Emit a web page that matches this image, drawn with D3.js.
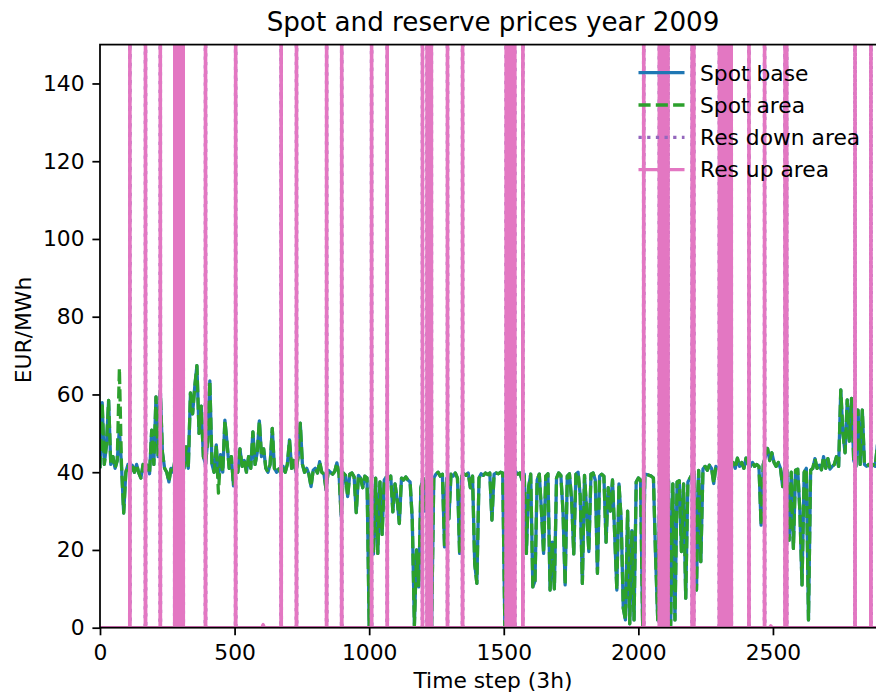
<!DOCTYPE html>
<html>
<head>
<meta charset="utf-8">
<script src="https://cdn.jsdelivr.net/npm/d3@7"></script>
<style>
  body { margin: 0; background: #fff; }
  text { font-family: "DejaVu Sans", sans-serif; fill: #000; }
</style>
</head>
<body>
<svg id="chart" width="876" height="697"></svg>
<script>
// ---- labels and ticks ----
const titleText = "Spot and reserve prices year 2009";
const xLabelText = "Time step (3h)";
const yLabelText = "EUR/MWh";
const xTickValues = [0, 500, 1000, 1500, 2000, 2500];
const yTickValues = [0, 20, 40, 60, 80, 100, 120, 140];
const seriesNames = ["Spot base", "Spot area", "Res down area", "Res up area"];
const seriesColors = ["#1f77b4", "#2ca02c", "#9467bd", "#e377c2"];

// ---- data ----
const nSteps = 2920;      // 3h steps in a year
const sampleEvery = 8;    // spot prices read once per day (8 x 3h)

// spot price, base node (EUR/MWh), one value per day
const spotBase = [
  41, 57.9, 42, 47, 58.5, 42, 44, 41, 43, 51,
  41.5, 29.5, 40, 42, 39.8, 41.8, 40, 42, 39.8, 38.5,
  42, 40, 41.8, 39.6, 50.8, 42, 59.4, 44, 61, 45,
  41, 40, 37.5, 41, 40, 44, 41, 47, 42, 41,
  46.5, 41, 60.4, 55, 62, 67.4, 50, 57, 44, 42,
  48, 63.5, 42, 40, 47, 38.5, 44.5, 40, 53.4, 47.5,
  41, 44, 36.5, 41, 40, 46, 41.5, 43, 40, 44,
  41, 50.4, 42, 45, 53.2, 44, 46, 41, 40, 42,
  51.3, 41, 40, 40.8, 39.8, 41.5, 40, 42, 48.3, 41,
  43, 40, 44, 52.6, 42, 40, 41, 39.5, 36.3, 40.5,
  41, 39.8, 42.7, 40, 39.5, 35.4, 40.5, 40, 39.5, 40.2,
  42.4, 39.5, 28.6, 39.8, 39.2, 33.7, 39.5, 39.8, 38.8, 29.6,
  39.2, 38.5, 36, 39, 38.5, 0.3, 38, 19, 38.5, 19.1,
  37.5, 24, 38, 38.8, 38.2, 39, 29.8, 37, 33, 26.8,
  38.5, 38, 38.8, 38, 37.5, 28, 0.5, 20, 10.5, 36,
  38.5, 30, 38, 24, 0.5, 38.5, 39.5, 40, 39, 39.5,
  20.8, 38.5, 28, 39.5, 39, 39.8, 38.5, 19.1, 39, 39.6,
  39.2, 39.8, 36, 39, 16.5, 11.4, 38.5, 39.6, 39.2, 39.8,
  39.4, 39.8, 27.7, 39.5, 39.8, 39.6, 40, 39.8, 0.3, 40,
  39.8, 40, 39.6, 40.2, 39.5, 39.8, 38, 39.5, 19.1, 36,
  39.5, 10.5, 12, 38, 39.5, 30, 19.1, 39, 39.6, 9.7,
  22, 10, 38.5, 39.8, 39.2, 30, 11, 39, 39.6, 33,
  19, 39.5, 40, 34, 11.4, 39.2, 30, 19.6, 39.5, 39.8,
  38, 14, 39, 39.5, 39, 22, 36, 30, 38, 24,
  9.7, 37, 28, 5, 2, 30, 1, 25, 2, 37.5,
  38.5, 38, 0.3, 39.5, 39.4, 39.2, 39, 38.5, 18.3, 2,
  38, 30, 37, 20, 38, 0.6, 37, 2, 37.5, 37.8,
  19.6, 37, 7.6, 37.5, 38.5, 39.5, 40, 9.7, 40.5, 17,
  40.8, 41.5, 40.5, 41.8, 41, 37.1, 41.5, 41, 41.5, 41,
  42, 41, 41.5, 41, 42.5, 41, 43.6, 41.5, 42.5, 41,
  43.6, 42, 41.5, 42.5, 41.5, 42, 41.5, 26.4, 42, 44,
  46.1, 43, 45, 42.5, 41.5, 42.5, 41, 36.3, 41, 40.5,
  22.5, 40, 20.4, 40.5, 40.8, 30, 11, 40, 41, 2,
  40.5, 41, 43.5, 41, 41.8, 40.6, 44, 41, 43.5, 40.8,
  41.5, 42, 44, 41.5, 61.2, 50, 45, 58.6, 48, 59,
  43, 41.5, 56, 42, 56, 42, 41.5, 42, 41.2, 42,
  41.5, 47, 42, 41, 41.5
];

// spot price, area node (EUR/MWh), one value per day
const spotArea = [
  41, 57.9, 42, 47, 58.5, 42, 44, 41, 43, 66.8,
  41.5, 29.5, 40, 42, 39.8, 41.8, 40, 42, 39.8, 38.5,
  42, 40, 41.8, 39.6, 50.8, 42, 59.4, 44, 61, 45,
  41, 40, 37.5, 41, 40, 44, 41, 47, 42, 41,
  46.5, 41, 60.4, 55, 62, 67.4, 50, 57, 44, 42,
  48, 63.5, 42, 40, 47, 34.6, 44.5, 40, 53.4, 47.5,
  41, 44, 36.5, 41, 40, 46, 41.5, 43, 40, 44,
  41, 50.4, 42, 45, 53.2, 44, 46, 41, 40, 42,
  51.3, 41, 40, 40.8, 39.8, 41.5, 40, 42, 48.3, 41,
  43, 40, 44, 52.6, 42, 40, 41, 39.5, 36.3, 40.5,
  41, 39.8, 42.7, 40, 39.5, 35.4, 40.5, 40, 39.5, 40.2,
  42.4, 39.5, 28.6, 39.8, 39.2, 33.7, 39.5, 39.8, 38.8, 29.6,
  39.2, 38.5, 36, 39, 38.5, 0.3, 38, 19, 38.5, 19.1,
  37.5, 24, 38, 38.8, 38.2, 39, 29.8, 37, 33, 26.8,
  38.5, 38, 38.8, 38, 37.5, 28, 0.5, 20, 10.5, 36,
  38.5, 30, 38, 24, 0.5, 38.5, 39.5, 40, 39, 39.5,
  20.8, 38.5, 28, 39.5, 39, 39.8, 38.5, 19.1, 39, 39.6,
  39.2, 39.8, 36, 39, 16.5, 11.4, 38.5, 39.6, 39.2, 39.8,
  39.4, 39.8, 27.7, 39.5, 39.8, 39.6, 40, 39.8, 0.3, 40,
  39.8, 40, 39.6, 40.2, 39.5, 39.8, 38, 39.5, 19.1, 36,
  39.5, 10.5, 12, 38, 39.5, 30, 19.1, 39, 39.6, 9.7,
  22, 10, 38.5, 39.8, 39.2, 30, 11, 39, 39.6, 33,
  19, 39.5, 40, 34, 11.4, 39.2, 30, 19.6, 39.5, 39.8,
  38, 14, 39, 39.5, 39, 22, 36, 30, 38, 24,
  9.7, 37, 28, 5, 2, 30, 1, 25, 2, 37.5,
  38.5, 38, 0.3, 39.5, 39.4, 39.2, 39, 38.5, 18.3, 2,
  38, 30, 37, 20, 38, 0.6, 37, 2, 37.5, 37.8,
  19.6, 37, 7.6, 37.5, 38.5, 39.5, 40, 9.7, 40.5, 17,
  40.8, 41.5, 40.5, 41.8, 41, 37.1, 41.5, 41, 41.5, 41,
  42, 41, 41.5, 41, 42.5, 41, 43.6, 41.5, 42.5, 41,
  43.6, 42, 41.5, 42.5, 41.5, 42, 41.5, 26.4, 42, 44,
  46.1, 43, 45, 42.5, 41.5, 42.5, 41, 36.3, 41, 40.5,
  22.5, 40, 20.4, 40.5, 40.8, 30, 11, 40, 41, 2,
  40.5, 41, 43.5, 41, 41.8, 40.6, 44, 41, 43.5, 40.8,
  41.5, 42, 44, 41.5, 61.2, 50, 45, 58.6, 48, 59,
  43, 41.5, 56, 42, 56, 42, 41.5, 42, 41.2, 42,
  41.5, 47, 42, 41, 41.5
];

// reserve prices are zero except at the listed time steps
const resDownSteps = [
  111, 169, 224, 278, 282, 286, 290, 294, 298, 302, 306, 309,
  392, 504, 673, 730, 842, 898, 1009, 1067, 1198,
  1215, 1219, 1223, 1227, 1231, 1291, 1347,
  1509, 1513, 1517, 1521, 1525, 1529, 1533, 1537, 1541, 1571,
  2020, 2078, 2082, 2086, 2090, 2094, 2098, 2102, 2106, 2110,
  2200, 2206,
  2301, 2305, 2309, 2313, 2317, 2321, 2325, 2329, 2333, 2337, 2341, 2345,
  2411, 2469, 2545, 2551, 2805, 2864
];
const resDownValues = [
  380, 380, 380, 380, 380, 380, 380, 380, 380, 380, 380, 380,
  380, 380, 380, 380, 380, 380, 380, 380, 380,
  380, 380, 380, 380, 380, 380, 380,
  380, 380, 380, 380, 380, 380, 380, 380, 380, 380,
  380, 380, 380, 380, 380, 380, 380, 380, 380, 380,
  380, 380,
  380, 380, 380, 380, 380, 380, 380, 380, 380, 380, 380, 380,
  380, 380, 380, 380, 380, 380
];

const resUpSteps = [
  111, 169, 224, 278, 282, 286, 290, 294, 298, 302, 306, 309,
  392, 504, 603, 604, 605, 606, 607, 608, 609,
  673, 730, 842, 898, 1009, 1067, 1198,
  1215, 1219, 1223, 1227, 1231, 1291, 1347,
  1509, 1513, 1517, 1521, 1525, 1529, 1533, 1537, 1541, 1571,
  2020, 2078, 2082, 2086, 2090, 2094, 2098, 2102, 2106, 2110,
  2200, 2206,
  2301, 2305, 2309, 2313, 2317, 2321, 2325, 2329, 2333, 2337, 2341, 2345,
  2411, 2469, 2489, 2490, 2491, 2492, 2493, 2494, 2495,
  2545, 2551, 2805, 2864
];
const resUpValues = [
  400, 400, 400, 400, 400, 400, 400, 400, 400, 400, 400, 400,
  400, 400, 0.3, 0.5, 0.7, 0.8, 0.7, 0.5, 0.3,
  400, 400, 400, 400, 400, 400, 400,
  400, 400, 400, 400, 400, 400, 400,
  400, 400, 400, 400, 400, 400, 400, 400, 400, 400,
  400, 400, 400, 400, 400, 400, 400, 400, 400, 400,
  400, 400,
  400, 400, 400, 400, 400, 400, 400, 400, 400, 400, 400, 400,
  400, 400, 0.2, 0.3, 0.4, 0.5, 0.4, 0.3, 0.2,
  400, 400, 400, 400
];

// ---- build point lists ----
const dailyPoints = values => values.map((v, i) => [i * sampleEvery, v]);
const stepSeries = (steps, values) => {
  const byStep = new Map(steps.map((s, i) => [s, values[i]]));
  return d3.range(nSteps).map(t => [t, byStep.has(t) ? byStep.get(t) : 0]);
};

const series = [
  { name: seriesNames[0], color: seriesColors[0], dash: null,        pts: dailyPoints(spotBase) },
  { name: seriesNames[1], color: seriesColors[1], dash: "12.1,5.2",  pts: dailyPoints(spotArea) },
  { name: seriesNames[2], color: seriesColors[2], dash: "3.27,5.4",  pts: stepSeries(resDownSteps, resDownValues) },
  { name: seriesNames[3], color: seriesColors[3], dash: null,        pts: stepSeries(resUpSteps, resUpValues) }
];

// ---- layout ----
const plot = { left: 100, right: 886, top: 44.6, bottom: 627.7 };
const lineW = 3.27;
const fontSize = "21.8px";
const tickLen = 7.6;

const svg = d3.select("#chart");
const x = d3.scaleLinear().domain([0, nSteps]).range([plot.left, plot.right]);
const y = d3.scaleLinear().domain([0, 150]).range([plot.bottom, plot.top]);

svg.append("defs").append("clipPath").attr("id", "plotClip")
  .append("rect")
  .attr("x", plot.left).attr("y", plot.top)
  .attr("width", plot.right - plot.left).attr("height", plot.bottom - plot.top);

const line = d3.line().x(d => x(d[0])).y(d => y(d[1]));

const lines = svg.append("g").attr("clip-path", "url(#plotClip)");
series.forEach(s => {
  lines.append("path")
    .attr("d", line(s.pts))
    .attr("fill", "none")
    .attr("stroke", s.color)
    .attr("stroke-width", lineW)
    .attr("stroke-linejoin", "round")
    .attr("stroke-dasharray", s.dash);
});

// ---- axes ----
const xAxis = svg.append("g")
  .attr("transform", `translate(0,${plot.bottom})`)
  .call(d3.axisBottom(x).tickValues(xTickValues).tickFormat(d3.format("d"))
    .tickSize(tickLen).tickPadding(9.4).tickSizeOuter(0));
const yAxis = svg.append("g")
  .attr("transform", `translate(${plot.left},0)`)
  .call(d3.axisLeft(y).tickValues(yTickValues).tickFormat(d3.format("d"))
    .tickSize(tickLen).tickPadding(7.9).tickSizeOuter(0));

[xAxis, yAxis].forEach(a => {
  a.select(".domain").remove();
  a.selectAll(".tick line").attr("stroke", "#000").attr("stroke-width", 1.75);
  a.selectAll(".tick text")
    .style("font-family", "'DejaVu Sans', sans-serif")
    .style("font-size", fontSize)
    .attr("fill", "#000");
});

// frame
svg.append("rect")
  .attr("x", plot.left).attr("y", plot.top)
  .attr("width", plot.right - plot.left).attr("height", plot.bottom - plot.top)
  .attr("fill", "none").attr("stroke", "#000").attr("stroke-width", 1.75);

// ---- texts ----
const midX = (plot.left + plot.right) / 2;
svg.append("text").attr("x", midX).attr("y", 31)
  .attr("text-anchor", "middle").style("font-size", "26.2px").text(titleText);
svg.append("text").attr("x", midX).attr("y", 688)
  .attr("text-anchor", "middle").style("font-size", fontSize).text(xLabelText);
svg.append("text")
  .attr("transform", "translate(31,330) rotate(-90)")
  .attr("text-anchor", "middle").style("font-size", fontSize).text(yLabelText);

// ---- legend ----
const legend = svg.append("g");
const rowY = [72.7, 105, 137.3, 169.6];
series.forEach((s, i) => {
  legend.append("line")
    .attr("x1", 638.5).attr("x2", 684.5).attr("y1", rowY[i]).attr("y2", rowY[i])
    .attr("stroke", s.color).attr("stroke-width", lineW)
    .attr("stroke-dasharray", s.dash);
  legend.append("text")
    .attr("x", 700).attr("y", rowY[i]).attr("dy", "0.36em")
    .style("font-size", fontSize).text(s.name);
});
</script>
</body>
</html>
